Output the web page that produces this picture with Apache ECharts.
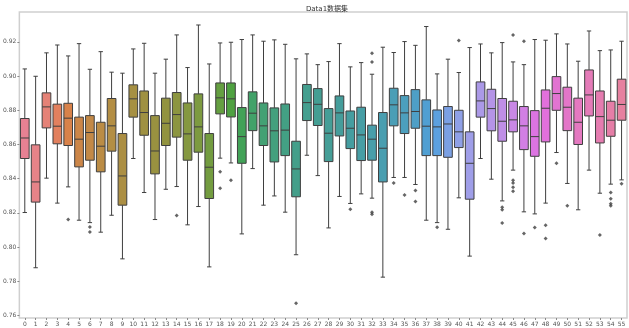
<!DOCTYPE html>
<html>
<head>
<meta charset="utf-8">
<script src="https://cdn.jsdelivr.net/npm/echarts@6/dist/echarts.min.js"></script>
<style>
  html, body { margin: 0; padding: 0; background: #fff; }
  #main { width: 629px; height: 328px; }
</style>
</head>
<body>
<div id="main"></div>
<script>
// box stats per category
const categories = Array.from({ length: 56 }, (_, i) => String(i));
const whiskerLow = [0.8202,0.7879,0.8403,0.8257,0.8352,0.8157,0.8143,0.8087,0.8186,0.7931,0.8518,0.8319,0.8161,0.8338,0.8354,0.8130,0.8237,0.7884,0.8520,0.8492,0.8077,0.8459,0.8245,0.8299,0.8204,0.7955,0.8537,0.8418,0.8112,0.8296,0.8255,0.8311,0.8286,0.7824,0.8407,0.8407,0.8366,0.8157,0.8143,0.8104,0.8288,0.7947,0.8518,0.8397,0.8270,0.8450,0.8206,0.8194,0.8257,0.8553,0.8372,0.8218,0.8450,0.8315,0.8368,0.8393];
const q1 = [0.8518,0.8263,0.8697,0.8604,0.8594,0.8469,0.8508,0.8440,0.8561,0.8245,0.8760,0.8654,0.8428,0.8594,0.8643,0.8508,0.8555,0.8284,0.8779,0.8761,0.8490,0.8681,0.8594,0.8498,0.8535,0.8294,0.8740,0.8711,0.8500,0.8650,0.8576,0.8506,0.8508,0.8381,0.8709,0.8664,0.8695,0.8535,0.8535,0.8525,0.8582,0.8280,0.8760,0.8680,0.8619,0.8674,0.8570,0.8531,0.8615,0.8800,0.8681,0.8600,0.8767,0.8609,0.8648,0.8742];
const median = [0.8638,0.8381,0.8820,0.8707,0.8754,0.8631,0.8670,0.8590,0.8709,0.8416,0.8867,0.8787,0.8562,0.8724,0.8775,0.8662,0.8703,0.8467,0.8873,0.8867,0.8646,0.8783,0.8709,0.8680,0.8684,0.8457,0.8845,0.8835,0.8666,0.8785,0.8695,0.8656,0.8631,0.8578,0.8832,0.8785,0.8793,0.8707,0.8703,0.8720,0.8674,0.8490,0.8855,0.8810,0.8736,0.8744,0.8709,0.8646,0.8812,0.8898,0.8818,0.8730,0.8890,0.8763,0.8742,0.8834];
const q3 = [0.8752,0.8598,0.8902,0.8836,0.8841,0.8760,0.8769,0.8730,0.8869,0.8664,0.8949,0.8913,0.8769,0.8871,0.8904,0.8843,0.8896,0.8664,0.8960,0.8960,0.8816,0.8908,0.8843,0.8814,0.8837,0.8619,0.8951,0.8927,0.8810,0.8884,0.8796,0.8818,0.8713,0.8787,0.8929,0.8886,0.8921,0.8861,0.8802,0.8822,0.8800,0.8674,0.8966,0.8923,0.8869,0.8853,0.8822,0.8798,0.8919,0.8997,0.8935,0.8871,0.9036,0.8913,0.8853,0.8982];
const whiskerHigh = [0.9042,0.8999,0.9136,0.9182,0.9118,0.9190,0.9040,0.9143,0.9023,0.9017,0.9159,0.9192,0.9017,0.9099,0.9241,0.9050,0.9299,0.9071,0.9194,0.9198,0.9214,0.9241,0.9204,0.9212,0.9186,0.9101,0.9130,0.9067,0.9085,0.9190,0.9054,0.9079,0.9011,0.9169,0.9138,0.9202,0.9180,0.9290,0.9013,0.9099,0.9021,0.9167,0.9188,0.9136,0.9196,0.9083,0.9067,0.9214,0.9210,0.9247,0.9188,0.9087,0.9264,0.9149,0.9153,0.9204];

// fliers
const outlierCat = [4, 6, 6, 14, 18, 18, 19, 25, 30, 32, 32, 32, 32, 34, 35, 36, 36, 38, 40, 44, 44, 44, 45, 45, 45, 45, 45, 46, 46, 47, 48, 48, 49, 50, 53, 54, 54, 54, 54, 55];
const outlierVal = [0.8161, 0.8118, 0.8088, 0.8184, 0.8440, 0.8344, 0.8391, 0.7672, 0.8221, 0.9134, 0.9083, 0.8203, 0.8192, 0.8374, 0.8305, 0.8331, 0.8266, 0.8116, 0.9208, 0.8233, 0.8218, 0.8140, 0.9241, 0.8391, 0.8374, 0.8350, 0.8327, 0.9204, 0.8079, 0.8114, 0.8128, 0.8050, 0.8490, 0.8241, 0.8071, 0.8319, 0.8282, 0.8253, 0.8241, 0.8370];

// --- husl palette like seaborn (h=.01, s=.9, l=.65), then desaturated .75
const M = [[3.2406, -1.5372, -0.4986], [-0.9689, 1.8758, 0.0415], [0.0557, -0.2040, 1.0570]];
function maxChroma(L, H) {
  const hr = H / 180 * Math.PI, sinH = Math.sin(hr), cosH = Math.cos(hr);
  const sub1 = Math.pow(L + 16, 3) / 1560896;
  const sub2 = sub1 > 0.008856 ? sub1 : L / 903.3;
  let res = Infinity;
  M.forEach(([m1, m2, m3]) => {
    const top = (0.99915 * m1 + 1.05122 * m2 + 1.14460 * m3) * sub2;
    const rb = 0.86330 * m3 - 0.17266 * m2;
    const lb = 0.12949 * m3 - 0.38848 * m1;
    const bottom = (rb * sinH + lb * cosH) * sub2;
    [0, 1].forEach(t => {
      const C = L * (top - 1.05122 * t) / (bottom + 0.17266 * sinH * t);
      if (C > 0 && C < res) res = C;
    });
  });
  return res;
}
function huslToRgb(H, S, L) {
  const C = maxChroma(L, H) / 100 * S;
  const hr = H / 180 * Math.PI;
  const U = Math.cos(hr) * C, V = Math.sin(hr) * C;
  const t = (L + 16) / 116;
  const Y = Math.pow(t, 3) > 0.008856 ? Math.pow(t, 3) : (116 * t - 16) / 903.3;
  const vU = U / (13 * L) + 0.19784, vV = V / (13 * L) + 0.46834;
  const X = -(9 * Y * vU) / ((vU - 4) * vV - vU * vV);
  const Z = (9 * Y - 15 * vV * Y - vV * X) / (3 * vV);
  return M.map(r => {
    const c = r[0] * X + r[1] * Y + r[2] * Z;
    const v = c <= 0.0031308 ? 12.92 * c : 1.055 * Math.pow(c, 1 / 2.4) - 0.055;
    return Math.min(1, Math.max(0, v));
  });
}
function rgbToHls([r, g, b]) {
  const mx = Math.max(r, g, b), mn = Math.min(r, g, b);
  const l = (mx + mn) / 2;
  if (mx === mn) return [0, l, 0];
  const d = mx - mn;
  const s = l <= 0.5 ? d / (mx + mn) : d / (2 - mx - mn);
  let h;
  if (mx === r) h = ((g - b) / d) % 6;
  else if (mx === g) h = (b - r) / d + 2;
  else h = (r - g) / d + 4;
  return [((h / 6) + 1) % 1, l, s];
}
function hlsToRgb([h, l, s]) {
  if (s === 0) return [l, l, l];
  const m2 = l <= 0.5 ? l * (1 + s) : l + s - l * s;
  const m1 = 2 * l - m2;
  const v = hh => {
    hh = ((hh % 1) + 1) % 1;
    if (hh < 1 / 6) return m1 + (m2 - m1) * hh * 6;
    if (hh < 0.5) return m2;
    if (hh < 2 / 3) return m1 + (m2 - m1) * (2 / 3 - hh) * 6;
    return m1;
  };
  return [v(h + 1 / 3), v(h), v(h - 1 / 3)];
}
const toHex = c => '#' + c.map(v => Math.round(v * 255).toString(16).padStart(2, '0')).join('');

const n = categories.length;
const hlsList = categories.map((_, i) => {
  const h = ((i / n + 0.01) % 1) * 359;
  const hls = rgbToHls(huslToRgb(h, 0.9 * 99, 0.65 * 99));
  hls[2] *= 0.75;
  return hls;
});
const boxColors = hlsList.map(c => toHex(hlsToRgb(c)));
const lum = Math.min(...hlsList.map(c => c[1])) * 0.6;
const gray = toHex([lum, lum, lum]);

const boxData = categories.map((_, i) => [i, whiskerLow[i], q1[i], median[i], q3[i], whiskerHigh[i]]);
const fliers = outlierCat.map((c, k) => [c, outlierVal[k]]);

const chart = echarts.init(document.getElementById('main'));

function renderBox(params, api) {
  const i = api.value(0);
  const x = api.coord([i, median[i]])[0];
  const band = api.size([1, 0])[0];
  const hw = band * 0.4, cw = hw / 2;
  const y = k => api.coord([i, api.value(k)])[1];
  const yLo = y(1), yQ1 = y(2), yMed = y(3), yQ3 = y(4), yHi = y(5);
  const ls = { stroke: gray, lineWidth: 1 };
  return {
    type: 'group',
    children: [
      { type: 'line', shape: { x1: x, y1: yQ1, x2: x, y2: yLo }, style: ls },
      { type: 'line', shape: { x1: x, y1: yQ3, x2: x, y2: yHi }, style: ls },
      { type: 'line', shape: { x1: x - cw, y1: yLo, x2: x + cw, y2: yLo }, style: ls },
      { type: 'line', shape: { x1: x - cw, y1: yHi, x2: x + cw, y2: yHi }, style: ls },
      { type: 'rect', shape: { x: x - hw, y: yQ3, width: hw * 2, height: yQ1 - yQ3 },
        style: { fill: boxColors[i], stroke: gray, lineWidth: 1 } },
      { type: 'line', shape: { x1: x - hw, y1: yMed, x2: x + hw, y2: yMed }, style: ls }
    ]
  };
}

const option = {
  animation: false,
  backgroundColor: '#fff',
  title: {
    text: 'Data1数据集',
    left: 322,
    textAlign: 'center',
    top: 1,
    textStyle: { fontSize: 7, fontWeight: 'normal', color: '#333', fontFamily: 'DejaVu Sans, Noto Sans CJK SC' }
  },
  grid: {
    left: 17, right: 2, top: 12, bottom: 10,
    show: true, borderColor: '#cfcfcf', borderWidth: 1.5, backgroundColor: 'transparent'
  },
  xAxis: {
    type: 'category',
    data: categories,
    boundaryGap: true,
    axisLine: { show: false },
    axisTick: { show: true, alignWithLabel: true, length: 2, lineStyle: { color: '#888' } },
    axisLabel: { fontSize: 6, color: '#555', margin: 3, interval: 0, fontFamily: 'DejaVu Sans' },
    splitLine: { show: false }
  },
  yAxis: {
    type: 'value',
    min: 0.7585,
    max: 0.9375,
    splitNumber: 9,
    axisLine: { show: false },
    axisTick: { show: true, length: 2, lineStyle: { color: '#888' } },
    axisLabel: {
      fontSize: 6, color: '#555', margin: 3, fontFamily: 'DejaVu Sans',
      showMinLabel: false, showMaxLabel: false,
      formatter: v => v.toFixed(2)
    },
    splitLine: { show: false }
  },
  series: [
    {
      type: 'custom',
      renderItem: renderBox,
      data: boxData,
      encode: { x: 0, y: [1, 2, 3, 4, 5] },
      z: 2
    },
    {
      type: 'scatter',
      data: fliers,
      symbol: 'diamond',
      symbolSize: 4,
      itemStyle: { color: gray },
      z: 3
    }
  ]
};
chart.setOption(option);
</script>
</body>
</html>
